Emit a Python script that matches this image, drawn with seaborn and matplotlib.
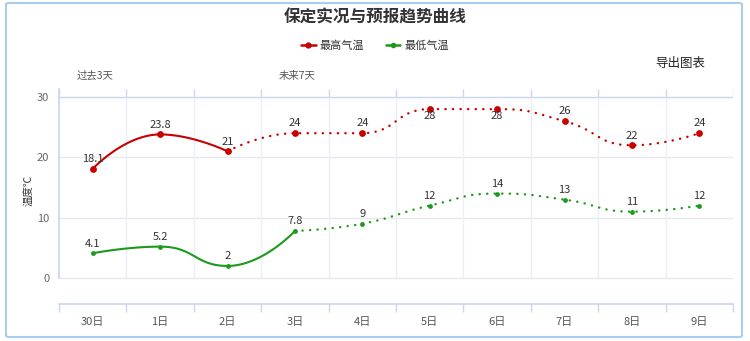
import numpy as np
import pandas as pd
import matplotlib
matplotlib.use("Agg")
import matplotlib.pyplot as plt
from matplotlib.lines import Line2D
from matplotlib.patches import FancyBboxPatch
import seaborn as sns

# ---------------- data ----------------
days = ["30日", "1日", "2日", "3日", "4日", "5日", "6日", "7日", "8日", "9日"]
tmax = [18.1, 23.8, 21, 24, 24, 28, 28, 26, 22, 24]
tmin = [4.1, 5.2, 2, 7.8, 9, 12, 14, 13, 11, 12]
tmax_obs_n = 3   # observed max values: 30日..2日
tmin_obs_n = 4   # observed min values: 30日..3日
yticks = [0, 10, 20, 30]
title = "保定实况与预报趋势曲线"
series_names = ["最高气温", "最低气温"]
ylabel = "温度℃"
period_labels = ["过去3天", "未来7天"]
export_label = "导出图表"

RED = "#c80000"
GREEN = "#1b9a1b"

sns.set_theme(style="white")
plt.rcParams["font.family"] = ["Noto Sans CJK SC", "DejaVu Sans"]

W, H = 750, 341
fig = plt.figure(figsize=(W / 100, H / 100), dpi=100)
ax = fig.add_axes([59 / W, (H - 304) / H, 674 / W, 215 / H])

ymin, ymax = -4.31, 31.33
ax.set_xlim(-0.5, len(days) - 0.5)
ax.set_ylim(ymin, ymax)

# pixel scales for smoothing
SX = 674 / len(days)
SY = 215 / (ymax - ymin)


def echarts_smooth(xs, ys, smooth=0.5, n=40):
    """Smooth path through the given points (ECharts-5 style bezier construction)."""
    p = np.column_stack([np.asarray(xs, float) * SX, np.asarray(ys, float) * SY])
    m = len(p)
    cin = [p[i].copy() for i in range(m)]
    cout = [p[i].copy() for i in range(m)]
    for i in range(1, m - 1):
        prev, cur, nxt = p[i - 1], p[i], p[i + 1]
        v = nxt - prev
        lp = np.linalg.norm(cur - prev)
        ln = np.linalg.norm(nxt - cur)
        r = ln / (ln + lp)
        co = cur + v * smooth * r
        co = np.minimum(co, np.maximum(nxt, cur))
        co = np.maximum(co, np.minimum(nxt, cur))
        v2 = co - cur
        ci = cur - v2 * lp / ln
        ci = np.minimum(ci, np.maximum(prev, cur))
        ci = np.maximum(ci, np.minimum(prev, cur))
        v3 = cur - ci
        co = cur + v3 * ln / lp
        cin[i] = ci
        cout[i] = co
    pts = []
    t = np.linspace(0, 1, n)[:, None]
    for i in range(m - 1):
        a, b, c, d = p[i], cout[i], cin[i + 1], p[i + 1]
        seg = (1 - t) ** 3 * a + 3 * (1 - t) ** 2 * t * b + 3 * (1 - t) * t ** 2 * c + t ** 3 * d
        pts.append(seg if i == 0 else seg[1:])
    pts = np.vstack(pts)
    return pts[:, 0] / SX, pts[:, 1] / SY


# grid
for y in yticks:
    ax.axhline(y, color="#c9d6ec" if y == max(yticks) else "#e6e9ef", lw=1, zorder=0)
bounds = np.arange(len(days) + 1) - 0.5
ax.vlines(bounds[1:-1], 0, max(yticks), color="#eceff5", lw=1, zorder=0)
ax.vlines(bounds, max(yticks), ymax, color="#c9d6ec", lw=1, zorder=0)

df = pd.DataFrame({"day": days, "x": np.arange(len(days)), "tmax": tmax, "tmin": tmin})

for col, nobs, color, ms in [("tmax", tmax_obs_n, RED, 24), ("tmin", tmin_obs_n, GREEN, 12)]:
    vals = df[col].values
    xs = df["x"].values
    sx, sy = echarts_smooth(xs[:nobs], vals[:nobs])
    ax.plot(sx, sy, color=color, lw=1.5, solid_capstyle="round", zorder=3)
    fx, fy = echarts_smooth(xs[nobs - 1:], vals[nobs - 1:])
    ax.plot(fx, fy, color=color, lw=1.7, linestyle=(0, (0.1, 3.1)),
            dash_capstyle="round", zorder=3)
    sns.scatterplot(x=xs, y=vals, color=color, s=ms, linewidth=0, ax=ax, zorder=4, legend=False)
    for xv, yv in zip(xs, vals):
        lab = f"{yv:g}"
        off = -5 if yv > 27 else 7
        ax.annotate(lab, (xv, yv), xytext=(0, off), textcoords="offset points",
                    ha="center", va="center", fontsize=8, color="#333333", zorder=5)

# axes styling
for s in ["top", "right"]:
    ax.spines[s].set_visible(False)
ax.spines["left"].set_color("#c9d6ec")
ax.spines["left"].set_bounds(0, ymax)
ax.spines["bottom"].set_color("#c9d6ec")
ax.set_xticks(df["x"])
ax.set_xticklabels(days, fontsize=8, color="#555555")
ax.set_xticks(bounds, minor=True)
ax.tick_params(axis="x", which="major", length=0, pad=9)
ax.tick_params(axis="x", which="minor", length=6, width=1, color="#c9d6ec", direction="out",
               bottom=True)
ax.set_yticks(yticks)
ax.set_yticklabels([str(v) for v in yticks], fontsize=8, color="#666666")
ax.tick_params(axis="y", length=0, pad=7)
ax.set_xlabel("")
ax.set_ylabel("")
ax.grid(False)

fig.text(30 / W, 1 - 190 / H, ylabel, rotation=90, ha="center", va="center",
         fontsize=7.5, color="#333333")

# title
fig.text(0.5, 1 - 18 / H, title, ha="center", va="center", fontsize=12,
         fontweight="bold", color="#333333")

# legend
handles = [Line2D([0], [0], color=RED, lw=1.8, marker="o", markersize=3.5),
           Line2D([0], [0], color=GREEN, lw=1.8, marker="o", markersize=3)]
fig.legend(handles, series_names, loc="center", bbox_to_anchor=(0.5, 1 - 46 / H),
           ncol=2, frameon=False, fontsize=8, handlelength=1.3, handletextpad=0.4,
           columnspacing=1.9, labelcolor="#333333")

fig.text(680 / W, 1 - 63 / H, export_label, ha="center", va="center", fontsize=9,
         color="#222222")

trans = ax.get_xaxis_transform()
for xpos, lab in zip([0, tmin_obs_n - 1], period_labels):
    ax.text(xpos + 0.04, 1 + 13 / 215, lab, transform=trans,
            ha="center", va="center", fontsize=7.5, color="#555555", clip_on=False)

# outer border
border = FancyBboxPatch((6 / W, 4 / H), 736 / W, 334 / H, boxstyle="round,pad=0,rounding_size=0.004",
                        transform=fig.transFigure, fill=False, edgecolor="#a8cdf2", lw=1.5)
fig.patches.append(border)

fig.savefig("out.png", dpi=100)
